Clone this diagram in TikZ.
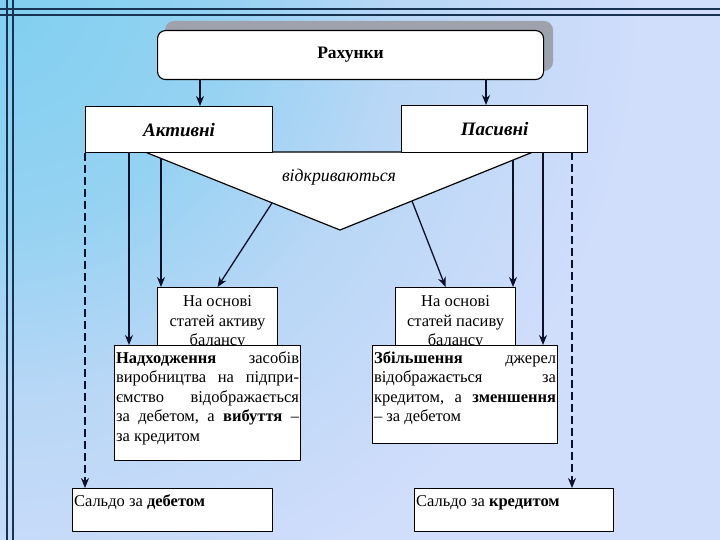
\documentclass[tikz,border=0pt]{standalone}
\usepackage{fontspec}
\setmainfont{Liberation Serif}
\usepackage{xcolor}
\usepackage{tikz}
\usetikzlibrary{arrows.meta,calc}
\definecolor{skyc}{RGB}{128,207,240}
\definecolor{sky2}{RGB}{150,210,242}
\definecolor{midc}{RGB}{185,215,246}
\definecolor{lavc}{RGB}{208,221,251}
\definecolor{framec}{RGB}{24,50,82}
\definecolor{linec}{RGB}{12,16,42}
\definecolor{shadc}{RGB}{158,162,173}
\pgfdeclareradialshading{bgshade}{\pgfpoint{0bp}{0bp}}{color(0bp)=(skyc); color(5.75bp)=(sky2); color(10bp)=(midc); color(16bp)=(lavc); color(50bp)=(lavc)}
\newcommand{\boxfont}{\fontsize{16.5}{19.5}\selectfont}

\begin{document}
\begin{tikzpicture}[x=1pt,y=-1pt,>={Stealth[length=10pt,width=8pt]},line join=round,
  box/.style={draw=black,fill=white,line width=1.1pt,anchor=north west},
  conn/.style={->,draw=linec,line width=1.3pt},
  dconn/.style={conn,dash pattern=on 8pt off 4pt}]
  \useasboundingbox (0,0) rectangle (720,540);
  \begin{scope}
    \clip (0,0) rectangle (720,540);
    \shade[shading=bgshade] (0,0) circle (1000);
  \end{scope}
  \draw[framec,line width=2pt] (7,0) -- (7,540) (13,0) -- (13,540);
  \draw[framec,line width=2pt] (0,9) -- (720,9) (0,15) -- (720,15);
  \coordinate (T1) at (145,152);
  \coordinate (T2) at (533,152);
  \coordinate (T3) at (340,230);
  \coordinate (A1) at (200,79);
  \coordinate (A2) at (486,79);
  \coordinate (L1) at (129,152);
  \coordinate (L2) at (161,158.4);
  \coordinate (D1) at (272,203);
  \coordinate (D2) at (412,201);
  \coordinate (R1) at (513,160);
  \coordinate (R2) at (543,152);
  \coordinate (R3) at (572,152);
  \fill[shadc,rounded corners=9pt] (165,21) rectangle (553,71);
  \node[box,rounded corners=8pt,minimum width=386pt,minimum height=49pt,font=\fontsize{17.5}{20}\selectfont\bfseries] (ACC) at (157,30) {Рахунки};
  \draw[fill=white,line width=1.2pt] (T1) -- (T2) -- (T3) -- cycle;
  \node[font=\fontsize{17.8}{20}\selectfont\itshape] (OPN) at (339,177) {відкриваються};
  \node[box,minimum width=187pt,minimum height=46pt,font=\fontsize{19}{22}\selectfont\bfseries\itshape] (ACT) at (85,106) {Активні};
  \node[box,minimum width=186pt,minimum height=47pt,font=\fontsize{19}{22}\selectfont\bfseries\itshape] (PAS) at (401,105) {Пасивні};
  \node[box,inner xsep=0pt,inner ysep=5.5pt,font=\boxfont] (BA) at (157,287)
    {\parbox[t][70pt][t]{120pt}{\centering\strut На основі\\статей активу\\балансу}};
  \node[box,inner xsep=0pt,inner ysep=5.5pt,font=\boxfont] (BP) at (395,287)
    {\parbox[t][70pt][t]{120pt}{\centering\strut На основі\\статей пасиву\\балансу}};
  \node[box,inner xsep=1.5pt,inner ysep=4pt,font=\boxfont] (NA) at (114,345)
    {\parbox[t][107pt][t]{183pt}{\strut\textbf{Надходження}\hfill засобів\\
      виробництва\hfill на\hfill підпри-\\
      ємство\hfill відображається\\
      за\hfill дебетом,\hfill а\hfill \textbf{вибуття}\hfill –\\
      за кредитом}};
  \node[box,inner xsep=1.5pt,inner ysep=4pt,font=\boxfont] (ZP) at (372,345)
    {\parbox[t][90pt][t]{182pt}{\strut\textbf{Збільшення}\hfill джерел\\
      відображається\hfill за\\
      кредитом,\hfill а\hfill \textbf{зменшення}\\
      – за дебетом}};
  \node[box,inner xsep=1.5pt,inner ysep=4pt,font=\boxfont] (SD) at (72,488)
    {\parbox[t][35pt][t]{197pt}{\strut Сальдо за \textbf{дебетом}}};
  \node[box,inner xsep=1.5pt,inner ysep=4pt,font=\boxfont] (SK) at (414,488)
    {\parbox[t][35pt][t]{196pt}{\strut Сальдо за \textbf{кредитом}}};
  \draw[conn] (A1) -- (A1 |- ACT.north);
  \draw[conn] (A2) -- (A2 |- PAS.north);
  \draw[dconn] (ACT.south west) -- (ACT.south west |- SD.north);
  \draw[conn] (L1) -- (L1 |- NA.north);
  \draw[conn] (L2) -- (L2 |- BA.north);
  \draw[conn] (D1) -- (BA.north);
  \draw[conn] (D2) -- ([xshift=-10pt]BP.north);
  \draw[conn] (R1) -- (R1 |- BP.north);
  \draw[conn] (R2) -- (R2 |- ZP.north);
  \draw[dconn] (R3) -- (R3 |- SK.north);
\end{tikzpicture}
\end{document}
